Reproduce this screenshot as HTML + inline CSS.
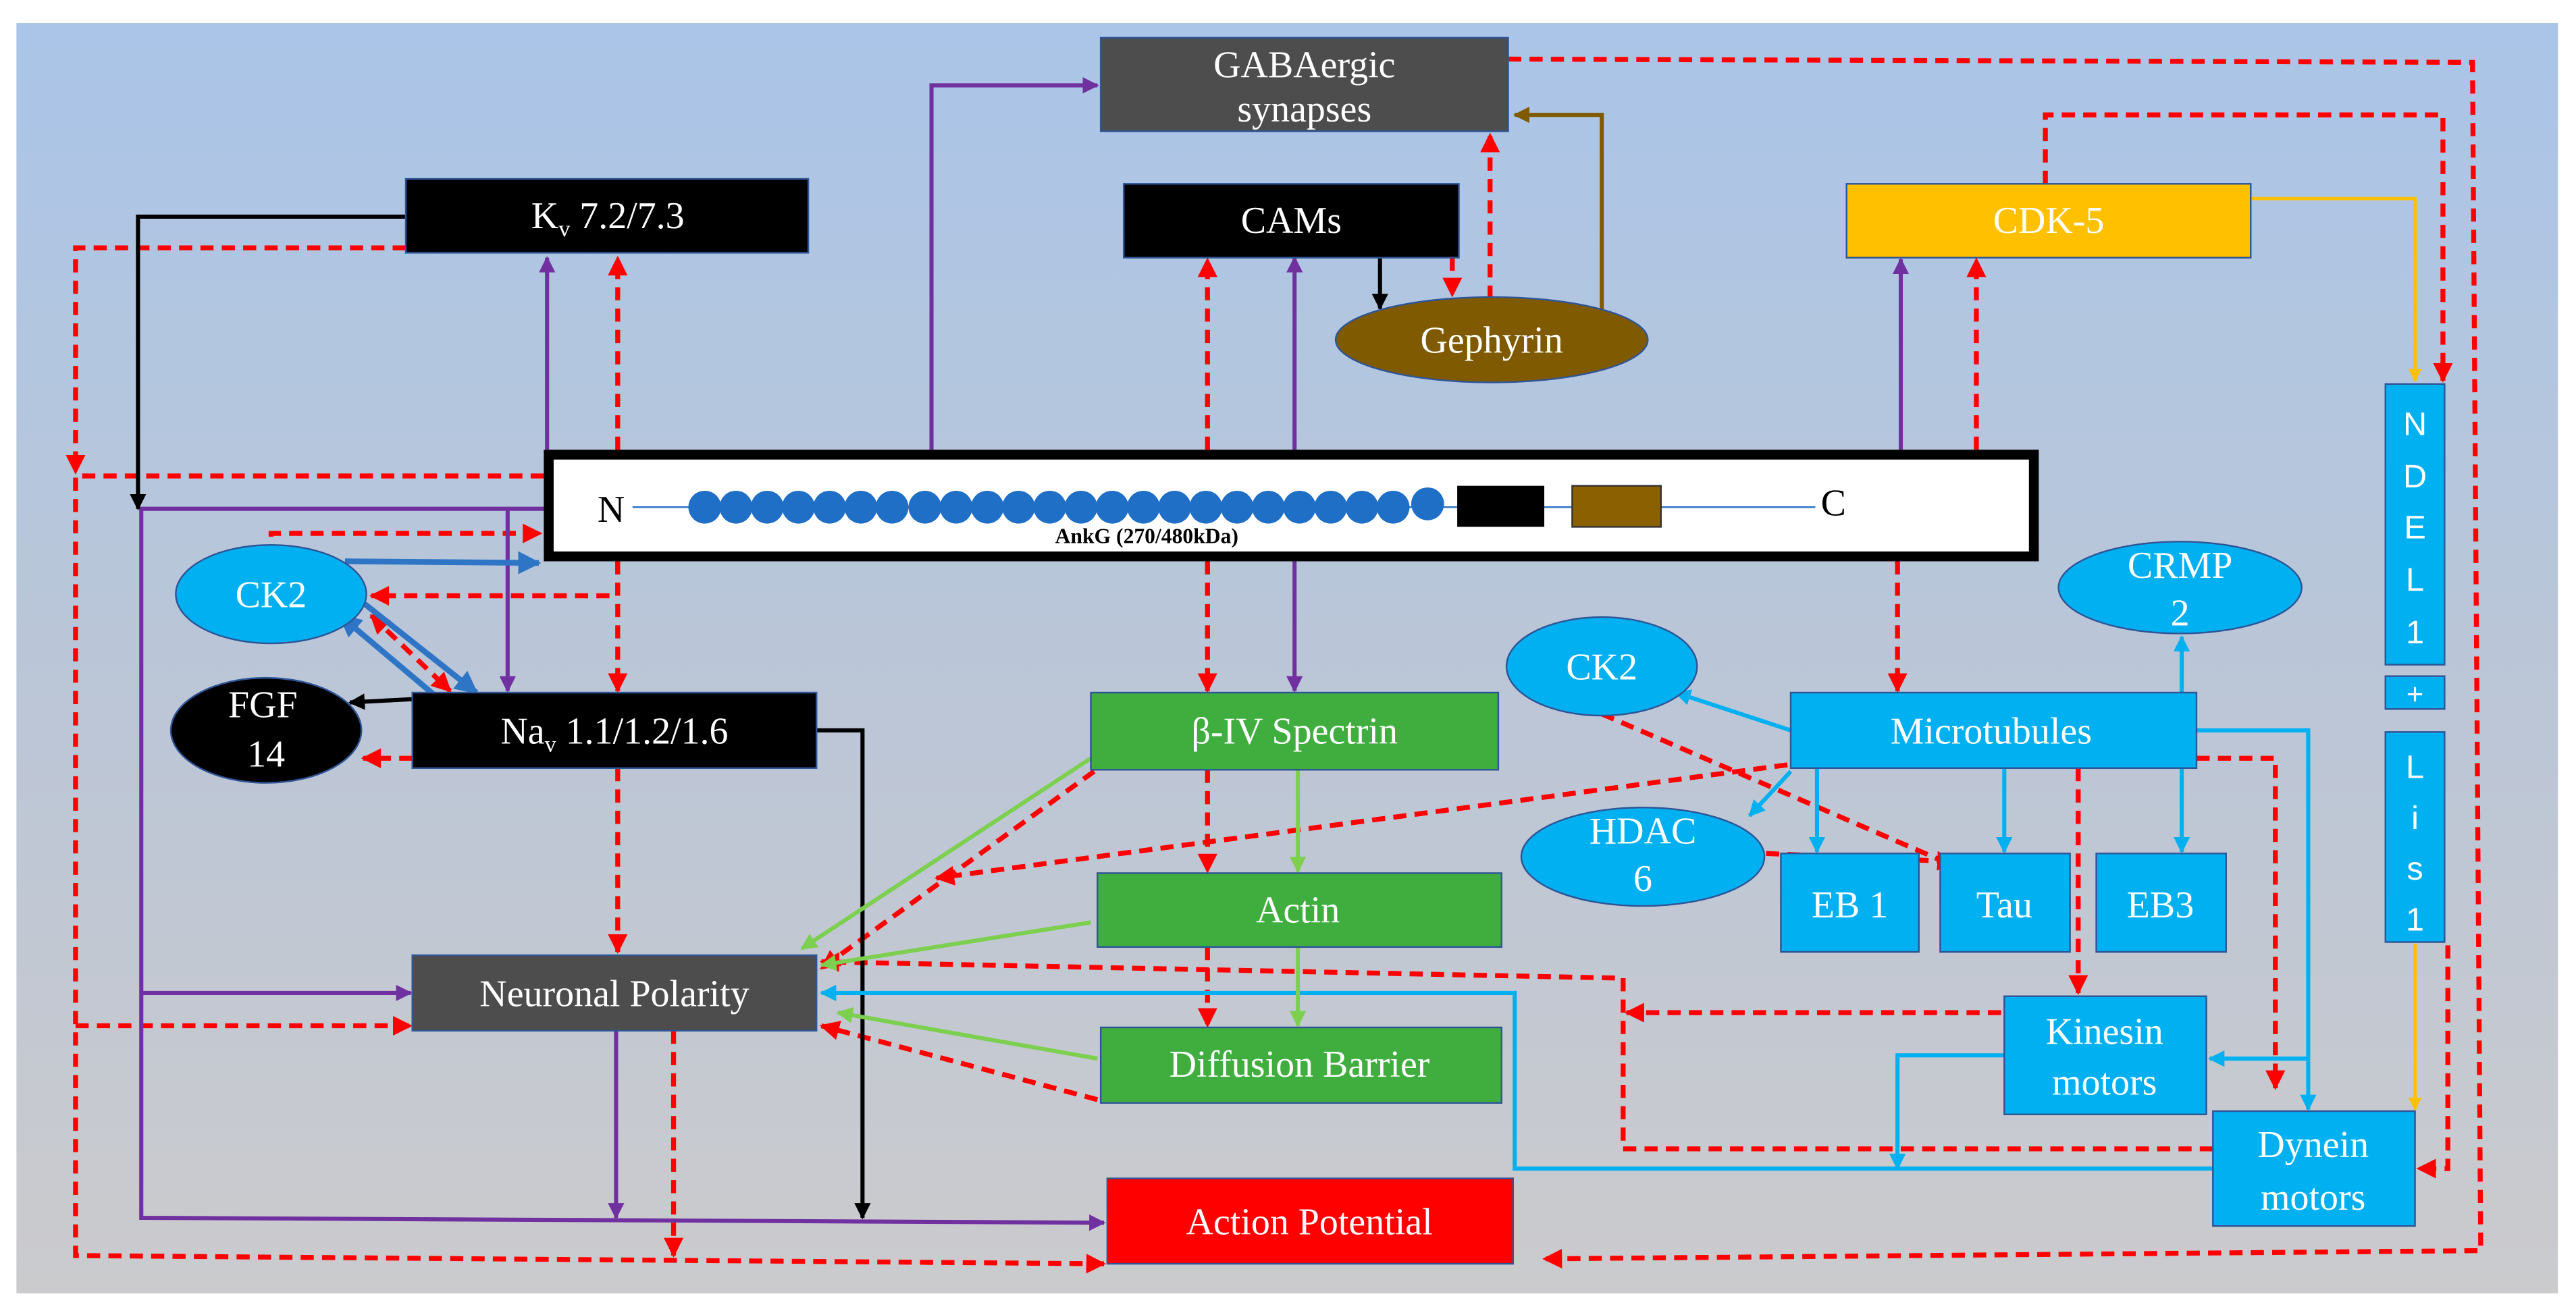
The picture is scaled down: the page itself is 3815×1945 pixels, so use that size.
<!DOCTYPE html>
<html><head><meta charset="utf-8"><style>
html,body{margin:0;padding:0;background:#fff}
svg{display:block}
</style></head><body>
<svg width="3815" height="1945" viewBox="0 0 1568 800" preserveAspectRatio="none" xmlns="http://www.w3.org/2000/svg">
<defs>
<linearGradient id="bg" x1="0" y1="0" x2="0" y2="1">
<stop offset="0" stop-color="#aac5e8"/><stop offset="0.55" stop-color="#bcc6d6"/><stop offset="1" stop-color="#cbcbcd"/>
</linearGradient>
<marker id="mr" viewBox="0 0 10 10" refX="9" refY="5" markerWidth="4" markerHeight="4" orient="auto-start-reverse"><path d="M0,0L10,5L0,10z" fill="#ff0000"/></marker>
<marker id="mp" viewBox="0 0 10 10" refX="9" refY="5" markerWidth="4" markerHeight="4" orient="auto-start-reverse"><path d="M0,0L10,5L0,10z" fill="#7030a0"/></marker>
<marker id="mk" viewBox="0 0 10 10" refX="9" refY="5" markerWidth="4" markerHeight="4" orient="auto-start-reverse"><path d="M0,0L10,5L0,10z" fill="#000"/></marker>
<marker id="mb" viewBox="0 0 10 10" refX="9" refY="5" markerWidth="4" markerHeight="4" orient="auto-start-reverse"><path d="M0,0L10,5L0,10z" fill="#00b0f0"/></marker>
<marker id="md" viewBox="0 0 10 10" refX="9" refY="5" markerWidth="4" markerHeight="4" orient="auto-start-reverse"><path d="M0,0L10,5L0,10z" fill="#2e75c6"/></marker>
<marker id="mg" viewBox="0 0 10 10" refX="9" refY="5" markerWidth="4" markerHeight="4" orient="auto-start-reverse"><path d="M0,0L10,5L0,10z" fill="#7ccf4f"/></marker>
<marker id="mn" viewBox="0 0 10 10" refX="9" refY="5" markerWidth="4" markerHeight="4" orient="auto-start-reverse"><path d="M0,0L10,5L0,10z" fill="#7f5a00"/></marker>
<marker id="my" viewBox="0 0 10 10" refX="9" refY="5" markerWidth="4" markerHeight="4" orient="auto-start-reverse"><path d="M0,0L10,5L0,10z" fill="#ffc000"/></marker>
</defs>
<rect x="10" y="14" width="1547" height="774" fill="url(#bg)"/>

<g fill="none" stroke="#ff0000" stroke-width="3" stroke-dasharray="8,5" marker-end="url(#mr)">
<polyline points="918,36 1505,38 1510,762 940,767"/>
<polyline points="247,151 46,151 46,288"/>
<polyline points="331,290 46,290 46,765 672,770"/>
<polyline points="46,625 250,625"/>
<polyline points="376,274 376,157"/>
<polyline points="376,342 376,421"/>
<polyline points="376,342 376,363 226,363"/>
<polyline points="165,340 165,325 329,325"/>
<polyline points="226,375 274,421" marker-start="url(#mr)"/>
<polyline points="251,462 221,462"/>
<polyline points="376,468 376,580"/>
<polyline points="735,274 735,158"/>
<polyline points="735,342 735,421"/>
<polyline points="884,157 884,180"/>
<polyline points="907,182 907,82"/>
<polyline points="1245,112 1245,70 1487,70 1487,232"/>
<polyline points="1203,274 1203,158"/>
<polyline points="1155,342 1155,421"/>
<polyline points="666,470 500,590"/>
<polyline points="735,469 735,531"/>
<polyline points="735,577 735,625"/>
<polyline points="1088,466 570,535"/>
<polyline points="975,435 1195,530"/>
<polyline points="1075,520 1190,525"/>
<polyline points="1265,468 1265,605"/>
<polyline points="1337,462 1385,462 1385,663"/>
<polyline points="1347,700 988,700 988,596 500,586"/>
<polyline points="1218,617 990,617"/>
<polyline points="668,670 500,625"/>
<polyline points="410,628 410,765"/>
<polyline points="1490,576 1490,712 1472,712"/>
</g>

<g fill="none" stroke="#7030a0" stroke-width="2.5" marker-end="url(#mp)">
<polyline points="567,274 567,52 668,52"/>
<polyline points="333,274 333,157"/>
<polyline points="331,310 86,310 86,742 672,745"/>
<polyline points="86,605 250,605"/>
<polyline points="309,310 309,421"/>
<polyline points="788,274 788,157"/>
<polyline points="788,342 788,421"/>
<polyline points="1157,274 1157,158"/>
<polyline points="375,628 375,742"/>
</g>

<g fill="none" stroke="#000" stroke-width="2.5" marker-end="url(#mk)">
<polyline points="247,132 84,132 84,310"/>
<polyline points="251,426 213,428"/>
<polyline points="840,157 840,188"/>
<polyline points="497,445 525,445 525,742"/>
</g>

<g fill="none" stroke="#2e75c6" stroke-width="3.5" marker-end="url(#md)">
<polyline points="210,342 328,343"/>
<polyline points="265,424 207,375"/>
<polyline points="222,368 290,422"/>
</g>

<g fill="none" stroke="#00b0f0" stroke-width="2.5" marker-end="url(#mb)">
<polyline points="1090,445 1020,422"/>
<polyline points="1090,470 1065,497"/>
<polyline points="1106,468 1106,519"/>
<polyline points="1220,468 1220,519"/>
<polyline points="1328,468 1328,519"/>
<polyline points="1328,422 1328,388"/>
<polyline points="1337,445 1405,445 1405,676"/>
<polyline points="1405,645 1345,645"/>
<polyline points="1347,712 922,712 922,605 500,605"/>
<polyline points="1220,643 1155,643 1155,712"/>
</g>

<g fill="none" stroke="#7ccf4f" stroke-width="2.5" marker-end="url(#mg)">
<polyline points="664,462 488,578"/>
<polyline points="664,562 500,588"/>
<polyline points="668,645 510,617"/>
<polyline points="790,469 790,531"/>
<polyline points="790,577 790,625"/>
</g>

<polyline points="975,190 975,70 922,70" fill="none" stroke="#7f5a00" stroke-width="2.5" marker-end="url(#mn)"/>
<g fill="none" stroke="#ffc000" stroke-width="2" marker-end="url(#my)">
<polyline points="1370,121 1470,121 1470,232"/>
<polyline points="1470,575 1470,676"/>
</g>

<g font-size="23" text-anchor="middle" font-family="'Liberation Serif', serif">
<rect x="670" y="23" width="248" height="57" fill="#4d4d4d" stroke="#2f5597"/>
<text x="794" y="47" fill="#fff">GABAergic</text><text x="794" y="74" fill="#fff">synapses</text>

<rect x="247" y="109" width="245" height="45" fill="#000" stroke="#2f5597"/>
<text x="370" y="139" fill="#fff">K<tspan font-size="14" dy="5">v</tspan><tspan dy="-5"> 7.2/7.3</tspan></text>

<rect x="684" y="112" width="204" height="45" fill="#000" stroke="#2f5597"/>
<text x="786" y="142" fill="#fff">CAMs</text>

<ellipse cx="908" cy="207" rx="95" ry="26" fill="#7f5a00" stroke="#2f5597"/>
<text x="908" y="215" fill="#fff">Gephyrin</text>

<rect x="1124" y="112" width="246" height="45" fill="#ffc000" stroke="#2f5597"/>
<text x="1247" y="142" fill="#fff">CDK-5</text>

<rect x="334" y="277" width="904" height="62" fill="#fff" stroke="#000" stroke-width="6"/>
<line x1="385" y1="309" x2="1105" y2="309" stroke="#2e75c6" stroke-width="1"/>
<text x="372" y="318" fill="#000">N</text>
<text x="1116" y="314" fill="#000">C</text>
<g fill="#1f6fc6">
<circle cx="429" cy="309" r="10"/><circle cx="448" cy="309" r="10"/><circle cx="467" cy="309" r="10"/><circle cx="486" cy="309" r="10"/><circle cx="505" cy="309" r="10"/><circle cx="524" cy="309" r="10"/><circle cx="543" cy="309" r="10"/><circle cx="563" cy="309" r="10"/><circle cx="582" cy="309" r="10"/><circle cx="601" cy="309" r="10"/><circle cx="620" cy="309" r="10"/><circle cx="639" cy="309" r="10"/><circle cx="658" cy="309" r="10"/><circle cx="677" cy="309" r="10"/><circle cx="696" cy="309" r="10"/><circle cx="715" cy="309" r="10"/><circle cx="734" cy="309" r="10"/><circle cx="753" cy="309" r="10"/><circle cx="772" cy="309" r="10"/><circle cx="791" cy="309" r="10"/><circle cx="810" cy="309" r="10"/><circle cx="829" cy="309" r="10"/><circle cx="848" cy="309" r="10"/><circle cx="869" cy="307" r="10"/>
</g>
<rect x="887" y="296" width="53" height="25" fill="#000"/>
<rect x="957" y="296" width="54" height="25" fill="#8b6000" stroke="#333" stroke-width="1"/>
<text x="698" y="331" font-size="13" font-weight="bold" fill="#000">AnkG (270/480kDa)</text>

<rect x="1452" y="234" width="36" height="171" fill="#00b0f0" stroke="#2f5597"/>
<rect x="1452" y="412" width="36" height="20" fill="#00b0f0" stroke="#2f5597"/>
<rect x="1452" y="446" width="36" height="128" fill="#00b0f0" stroke="#2f5597"/>
<g fill="#fff" font-family="'Liberation Sans', sans-serif" font-size="20">
<text x="1470" y="265">N</text><text x="1470" y="297">D</text><text x="1470" y="328">E</text><text x="1470" y="360">L</text><text x="1470" y="392">1</text>
<text x="1470" y="429" font-size="18">+</text>
<text x="1470" y="474">L</text><text x="1470" y="505">i</text><text x="1470" y="536">s</text><text x="1470" y="567">1</text>
</g>

<ellipse cx="1327" cy="358" rx="74" ry="28" fill="#00b0f0" stroke="#2f5597"/>
<text x="1327" y="352" fill="#fff">CRMP</text><text x="1327" y="381" fill="#fff">2</text>

<ellipse cx="165" cy="362" rx="58" ry="30" fill="#00b0f0" stroke="#2f5597"/>
<text x="165" y="370" fill="#fff">CK2</text>

<ellipse cx="162" cy="445" rx="58" ry="32" fill="#000" stroke="#2f5597"/>
<text x="160" y="437" fill="#fff">FGF</text><text x="162" y="467" fill="#fff">14</text>

<rect x="251" y="422" width="246" height="46" fill="#000" stroke="#2f5597"/>
<text x="374" y="453" fill="#fff">Na<tspan font-size="14" dy="5">v</tspan><tspan dy="-5"> 1.1/1.2/1.6</tspan></text>

<rect x="664" y="422" width="248" height="47" fill="#3fae3f" stroke="#2f5597"/>
<text x="788" y="453" fill="#fff">β-IV Spectrin</text>

<ellipse cx="975" cy="406" rx="58" ry="30" fill="#00b0f0" stroke="#2f5597"/>
<text x="975" y="414" fill="#fff">CK2</text>

<rect x="1090" y="422" width="247" height="46" fill="#00b0f0" stroke="#2f5597"/>
<text x="1212" y="453" fill="#fff">Microtubules</text>

<ellipse cx="1000" cy="522" rx="74" ry="30" fill="#00b0f0" stroke="#2f5597"/>
<text x="1000" y="514" fill="#fff">HDAC</text><text x="1000" y="543" fill="#fff">6</text>

<rect x="1084" y="520" width="84" height="60" fill="#00b0f0" stroke="#2f5597"/>
<text x="1126" y="559" fill="#fff">EB 1</text>
<rect x="1181" y="520" width="79" height="60" fill="#00b0f0" stroke="#2f5597"/>
<text x="1220" y="559" fill="#fff">Tau</text>
<rect x="1276" y="520" width="79" height="60" fill="#00b0f0" stroke="#2f5597"/>
<text x="1315" y="559" fill="#fff">EB3</text>

<rect x="668" y="532" width="246" height="45" fill="#3fae3f" stroke="#2f5597"/>
<text x="790" y="562" fill="#fff">Actin</text>

<rect x="251" y="582" width="246" height="46" fill="#4d4d4d" stroke="#2f5597"/>
<text x="374" y="613" fill="#fff">Neuronal Polarity</text>

<rect x="670" y="626" width="244" height="46" fill="#3fae3f" stroke="#2f5597"/>
<text x="791" y="656" fill="#fff">Diffusion Barrier</text>

<rect x="1220" y="607" width="123" height="72" fill="#00b0f0" stroke="#2f5597"/>
<text x="1281" y="636" fill="#fff">Kinesin</text><text x="1281" y="667" fill="#fff">motors</text>

<rect x="1347" y="677" width="123" height="70" fill="#00b0f0" stroke="#2f5597"/>
<text x="1408" y="705" fill="#fff">Dynein</text><text x="1408" y="737" fill="#fff">motors</text>

<rect x="674" y="718" width="247" height="52" fill="#ff0000" stroke="#2f5597"/>
<text x="797" y="752" fill="#fff">Action Potential</text>
</g>
</svg>
</body></html>
